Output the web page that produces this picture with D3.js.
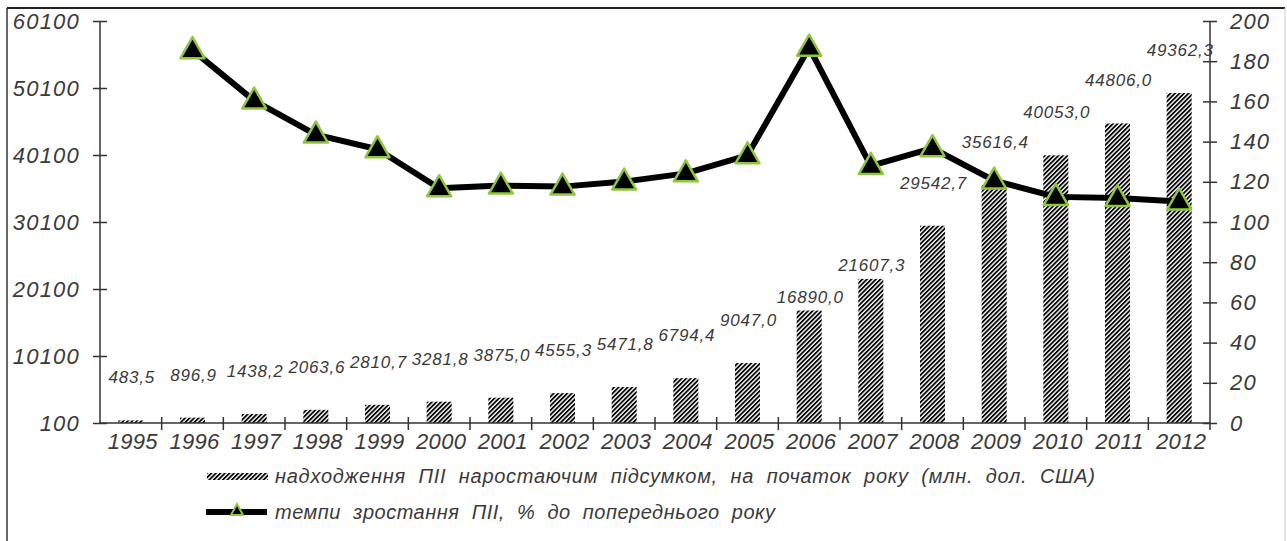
<!DOCTYPE html>
<html>
<head>
<meta charset="utf-8">
<script src="https://cdn.jsdelivr.net/npm/d3@7"></script>
<style>
  html, body { margin: 0; padding: 0; background: #fff; }
  svg { display: block; }
  text { font-family: "Liberation Sans", Arial, sans-serif; font-style: italic; fill: #3a3a3a; }
</style>
</head>
<body>
<div id="chart"></div>
<script>
// FDI inflow (cumulative, start of year) and growth rate vs previous year.
var years = ["1995", "1996", "1997", "1998", "1999", "2000", "2001", "2002", "2003",
  "2004", "2005", "2006", "2007", "2008", "2009", "2010", "2011", "2012"];
var inflow = [483.5, 896.9, 1438.2, 2063.6, 2810.7, 3281.8, 3875.0, 4555.3, 5471.8,
  6794.4, 9047.0, 16890.0, 21607.3, 29542.7, 35616.4, 40053.0, 44806.0, 49362.3];
var growthYears = years.slice(1);
var growth = [185.5, 160.4, 143.5, 136.2, 116.8, 118.1, 117.6, 120.1, 124.2,
  133.2, 186.7, 127.9, 136.7, 120.6, 112.5, 111.9, 110.2];
var leftTicks = [100, 10100, 20100, 30100, 40100, 50100, 60100];
var rightTicks = [0, 20, 40, 60, 80, 100, 120, 140, 160, 180, 200];
var legendBars = "надходження  ПІІ  наростаючим  підсумком,  на  початок  року  (млн.  дол.  США)";
var legendLine = "темпи  зростання  ПІІ,  %  до  попереднього  року";
// labels sitting just above their bar instead of high above it
var closeLabels = ["2006", "2007"];

(function () {
  "use strict";

  var W = 1287, H = 541;
  var left = 100, right = 1210, top = 21, bottom = 423;
  var axisColor = "#333";
  var green = "#8dc63f";

  var svg = d3.select("#chart").append("svg")
    .attr("width", W).attr("height", H);

  var defs = svg.append("defs");
  var pat = defs.append("pattern")
    .attr("id", "hatch")
    .attr("patternUnits", "userSpaceOnUse")
    .attr("width", 3.2).attr("height", 3.2)
    .attr("patternTransform", "rotate(45)");
  pat.append("rect").attr("width", 3.2).attr("height", 3.2).attr("fill", "#fff");
  pat.append("line")
    .attr("x1", 0.9).attr("y1", 0).attr("x2", 0.9).attr("y2", 3.2)
    .attr("stroke", "#000").attr("stroke-width", 1.8);

  // outer frame
  svg.append("line").attr("x1", 7).attr("y1", 8).attr("x2", 1285).attr("y2", 8)
    .attr("stroke", "#222").attr("stroke-width", 2);
  svg.append("line").attr("x1", 7).attr("y1", 8).attr("x2", 7).attr("y2", H)
    .attr("stroke", "#333").attr("stroke-width", 1.5);
  svg.append("line").attr("x1", 1285).attr("y1", 8).attr("x2", 1285).attr("y2", H)
    .attr("stroke", "#ccc").attr("stroke-width", 1);

  var x = d3.scaleBand().domain(years).range([left, right]).padding(0);
  var yL = d3.scaleLinear().domain([100, 60100]).range([bottom, top]);
  var yR = d3.scaleLinear().domain([0, 200]).range([bottom, top]);
  var fmt = function (v) { return d3.format(".1f")(v).replace(".", ","); };
  var barW = 25;

  // bars
  svg.append("g").selectAll("rect")
    .data(inflow)
    .join("rect")
    .attr("x", function (d, i) { return x(years[i]) + x.bandwidth() / 2 - barW / 2; })
    .attr("y", function (d) { return yL(d); })
    .attr("width", barW)
    .attr("height", function (d) { return yL(100) - yL(d); })
    .attr("fill", "url(#hatch)");

  // left axis
  var gL = svg.append("g").attr("transform", "translate(" + left + ",0)")
    .call(d3.axisLeft(yL).tickValues(leftTicks).tickSize(7).tickPadding(13)
      .tickFormat(d3.format("d")));
  gL.select(".domain").remove();
  gL.append("line").attr("y1", top).attr("y2", bottom).attr("stroke", axisColor).attr("stroke-width", 1.5);
  gL.selectAll(".tick line").attr("x1", 7).attr("stroke", axisColor).attr("stroke-width", 1.5);
  gL.selectAll(".tick text").style("font-size", "22px").style("letter-spacing", "1.2px")
    .attr("fill", "#3a3a3a").attr("font-family", null);

  // right axis
  var gR = svg.append("g").attr("transform", "translate(" + right + ",0)")
    .call(d3.axisRight(yR).tickValues(rightTicks).tickSize(7).tickPadding(13));
  gR.select(".domain").remove();
  gR.append("line").attr("y1", top).attr("y2", bottom + 7).attr("stroke", axisColor).attr("stroke-width", 1.5);
  gR.selectAll(".tick line").attr("x1", -7).attr("stroke", axisColor).attr("stroke-width", 1.5);
  gR.selectAll(".tick text").style("font-size", "22px").style("letter-spacing", "1.2px")
    .attr("fill", "#3a3a3a").attr("font-family", null);

  // bottom axis: ticks between categories
  var gB = svg.append("g").attr("transform", "translate(0," + bottom + ")");
  gB.append("line").attr("x1", left).attr("x2", right).attr("stroke", axisColor).attr("stroke-width", 1.5);
  gB.selectAll("line.tk")
    .data(years.slice(1))
    .join("line")
    .attr("class", "tk")
    .attr("x1", function (d) { return x(d); })
    .attr("x2", function (d) { return x(d); })
    .attr("y1", -6).attr("y2", 7)
    .attr("stroke", axisColor).attr("stroke-width", 1.5);
  gB.selectAll("text")
    .data(years)
    .join("text")
    .attr("x", function (d) { return x(d) + x.bandwidth() / 2 + 2; })
    .attr("y", 26)
    .attr("text-anchor", "middle")
    .style("font-size", "22px")
    .style("letter-spacing", "0.3px")
    .text(function (d) { return d; });

  // bar value labels
  svg.append("g").selectAll("text")
    .data(inflow)
    .join("text")
    .attr("x", function (d, i) { return x(years[i]) + x.bandwidth() / 2 + 1; })
    .attr("y", function (d, i) {
      var lift = closeLabels.indexOf(years[i]) >= 0 ? 14 : 43;
      return yL(d) - lift + 6;
    })
    .attr("text-anchor", "middle")
    .style("font-size", "17px")
    .style("letter-spacing", "0.8px")
    .text(function (d) { return fmt(d); });

  // growth line
  var line = d3.line()
    .x(function (d, i) { return x(growthYears[i]) + x.bandwidth() / 2; })
    .y(function (d) { return yR(d); });
  svg.append("path")
    .datum(growth)
    .attr("d", line)
    .attr("fill", "none")
    .attr("stroke", "#000")
    .attr("stroke-width", 6)
    .attr("stroke-linejoin", "round");

  var tri = "M0,-13L12,8L-12,8Z";
  svg.append("g").selectAll("path")
    .data(growth)
    .join("path")
    .attr("transform", function (d, i) {
      return "translate(" + (x(growthYears[i]) + x.bandwidth() / 2) + "," + yR(d) + ")";
    })
    .attr("d", tri)
    .attr("fill", "#000")
    .attr("stroke", green)
    .attr("stroke-width", 2.5)
    .attr("stroke-linejoin", "round");

  // legend
  var lg = svg.append("g");
  lg.append("rect").attr("x", 207).attr("y", 473).attr("width", 61).attr("height", 7)
    .attr("fill", "url(#hatch)");
  lg.append("text").attr("x", 275).attr("y", 483)
    .attr("textLength", 820).attr("lengthAdjust", "spacing")
    .style("font-size", "20px").style("white-space", "pre")
    .text(legendBars);

  lg.append("line").attr("x1", 206).attr("x2", 267).attr("y1", 512).attr("y2", 512)
    .attr("stroke", "#000").attr("stroke-width", 6);
  lg.append("path").attr("transform", "translate(237,511)")
    .attr("d", "M0,-7L6,4L-6,4Z")
    .attr("fill", "#000").attr("stroke", green).attr("stroke-width", 2);
  lg.append("text").attr("x", 275).attr("y", 519)
    .attr("textLength", 500).attr("lengthAdjust", "spacing")
    .style("font-size", "20px").style("white-space", "pre")
    .text(legendLine);
})();
</script>
</body>
</html>
